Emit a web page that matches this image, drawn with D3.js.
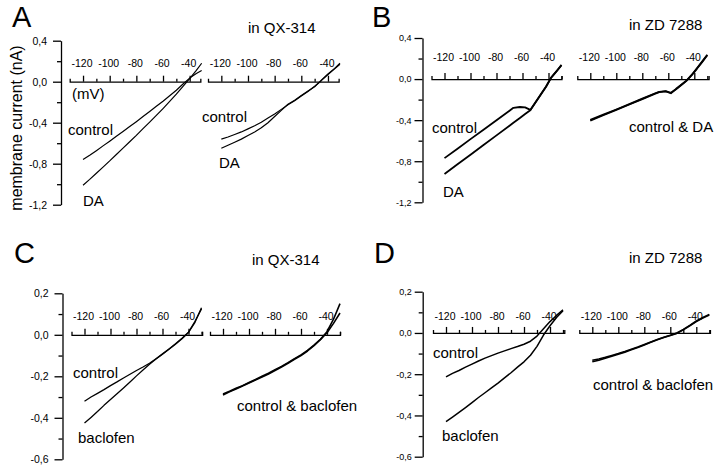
<!DOCTYPE html>
<html>
<head>
<meta charset="utf-8">
<script src="https://cdn.jsdelivr.net/npm/d3@7"></script>
<style>
  html, body { margin: 0; padding: 0; background: #fff; }
  svg { display: block; }
</style>
</head>
<body>
<svg id="fig" width="720" height="466"></svg>
<script>
// ---------------- DATA ----------------
// x tick labels (mV) and y tick values (nA)
const xMajor = [-120, -100, -80, -60, -40];
const xMinor = [-130, -110, -90, -70, -50, -30];
const yMajorAB = [0.4, 0.0, -0.4, -0.8, -1.2];
const yMinorAB = [0.2, -0.2, -0.6, -1.0];
const yMajorCD = [0.2, 0.0, -0.2, -0.4, -0.6];
const yMinorCD = [0.1, -0.1, -0.3, -0.5];

// Panel A (in QX-314), DA
const vA = [-120,-115,-110,-105,-100,-95,-90,-85,-80,-75,-70,-65,-60,-55,-50,-45,-40,-35,-31];
const aLeftControl = [-0.76,-0.718,-0.673,-0.626,-0.58,-0.533,-0.486,-0.438,-0.39,-0.34,-0.29,-0.24,-0.19,-0.137,-0.083,-0.022,0.035,0.08,0.11];
const aLeftDA      = [-1.01,-0.953,-0.893,-0.833,-0.773,-0.71,-0.648,-0.586,-0.524,-0.458,-0.394,-0.329,-0.262,-0.192,-0.122,-0.045,0.03,0.11,0.18];
const aRightControl = [-0.56,-0.54,-0.515,-0.49,-0.46,-0.43,-0.395,-0.355,-0.315,-0.27,-0.225,-0.185,-0.14,-0.095,-0.045,0.01,0.07,0.125,0.17];
const aRightDA      = [-0.65,-0.62,-0.59,-0.56,-0.525,-0.49,-0.45,-0.40,-0.34,-0.28,-0.22,-0.18,-0.135,-0.09,-0.05,0.015,0.075,0.13,0.18];

// Panel B (in ZD 7288), DA
const vB = [-120,-110,-100,-90,-80,-70,-67,-62,-58,-54,-50,-46,-42,-38,-34,-30];
const bLeftControl = [-0.77,-0.678,-0.585,-0.493,-0.40,-0.308,-0.28,-0.272,-0.276,-0.30,-0.225,-0.15,-0.075,0.015,0.075,0.135];
const bLeftDA      = [-0.924,-0.83,-0.736,-0.642,-0.548,-0.454,-0.426,-0.379,-0.341,-0.304,-0.228,-0.152,-0.078,0.012,0.072,0.138];
const bRightControl = [-0.405,-0.352,-0.30,-0.248,-0.195,-0.142,-0.127,-0.12,-0.138,-0.095,-0.055,-0.015,0.04,0.105,0.17,0.237];
const bRightDA      = [-0.398,-0.347,-0.296,-0.244,-0.19,-0.138,-0.124,-0.118,-0.134,-0.10,-0.058,-0.016,0.038,0.10,0.165,0.232];

// Panel C (in QX-314), baclofen
const vC = [-120,-115,-110,-105,-100,-95,-90,-85,-80,-75,-70,-65,-60,-55,-50,-45,-40,-35,-30];
const cLeftControl  = [-0.32,-0.30,-0.282,-0.264,-0.245,-0.227,-0.208,-0.19,-0.172,-0.155,-0.137,-0.115,-0.092,-0.068,-0.043,-0.017,0.013,0.065,0.125];
const cLeftBaclofen = [-0.425,-0.398,-0.37,-0.34,-0.312,-0.284,-0.256,-0.227,-0.198,-0.17,-0.142,-0.117,-0.094,-0.07,-0.045,-0.019,0.011,0.06,0.13];
const cRightControl  = [-0.29,-0.275,-0.261,-0.247,-0.232,-0.218,-0.204,-0.189,-0.172,-0.155,-0.137,-0.118,-0.10,-0.078,-0.052,-0.022,0.015,0.075,0.15];
const cRightBaclofen = [-0.285,-0.272,-0.258,-0.245,-0.23,-0.215,-0.20,-0.185,-0.168,-0.152,-0.134,-0.115,-0.097,-0.075,-0.05,-0.022,0.01,0.055,0.105];

// Panel D (in ZD 7288), baclofen
const vD = [-120,-115,-110,-105,-100,-95,-90,-85,-80,-75,-70,-65,-60,-55,-50,-45,-40,-35,-30];
const dLeftControl  = [-0.213,-0.196,-0.182,-0.166,-0.151,-0.136,-0.122,-0.11,-0.098,-0.087,-0.076,-0.066,-0.055,-0.04,-0.015,0.02,0.055,0.085,0.112];
const dLeftBaclofen = [-0.43,-0.408,-0.385,-0.362,-0.338,-0.313,-0.29,-0.266,-0.243,-0.218,-0.193,-0.166,-0.14,-0.108,-0.065,-0.01,0.035,0.075,0.108];
const dRightControl  = [-0.14,-0.132,-0.123,-0.113,-0.103,-0.093,-0.082,-0.07,-0.058,-0.045,-0.033,-0.022,-0.012,-0.002,0.015,0.035,0.055,0.072,0.087];
const dRightBaclofen = [-0.132,-0.126,-0.118,-0.109,-0.10,-0.09,-0.079,-0.068,-0.056,-0.044,-0.032,-0.021,-0.011,0.0,0.017,0.037,0.058,0.075,0.09];

// ---------------- DRAWING ----------------
const FONT = "'Liberation Sans', Arial, Helvetica, sans-serif";
const svg = d3.select("#fig");
const yFmt = d => d.toFixed(1).replace(".", ",");
const zip = (v, y) => v.map((x, i) => [x, y[i]]);

function drawPanel(cfg) {
  const g = svg.append("g");
  const ys = d3.scaleLinear().domain(cfg.yDomain).range(cfg.yRange);

  // y axis (major + minor)
  const yAx = g.append("g").attr("transform", `translate(${cfg.yAxisX},0)`)
    .call(d3.axisLeft(ys).tickValues(cfg.yMajor).tickSize(8).tickSizeOuter(0)
      .tickPadding(cfg.yPad).tickFormat(yFmt));
  yAx.selectAll("text").attr("font-size", cfg.yFont).attr("font-family", FONT).attr("fill", "#000");
  const yMin = g.append("g").attr("transform", `translate(${cfg.yAxisX},0)`)
    .call(d3.axisLeft(ys).tickValues(cfg.yMinor).tickSize(4).tickFormat(""));
  yMin.select(".domain").remove();
  g.selectAll("path.domain, line").attr("stroke", "#000").attr("stroke-width", 1.3);

  cfg.subs.forEach(s => {
    const xs = d3.scaleLinear().domain([-130, s.end])
      .range([s.x0, s.x0 + (s.end + 130) * s.ppm]);
    const y0 = ys(0);
    const xa = g.append("g").attr("transform", `translate(0,${y0})`)
      .call(d3.axisTop(xs).tickValues(xMajor).tickSize(6).tickSizeOuter(3)
        .tickPadding(cfg.xPad).tickFormat(d => String(d)));
    xa.selectAll("text").attr("font-size", 10.5).attr("font-family", FONT)
      .attr("fill", "#000").attr("dx", "-1.5");
    const xm = g.append("g").attr("transform", `translate(0,${y0})`)
      .call(d3.axisTop(xs).tickValues(xMinor.filter(v => v > -130 && v <= s.end))
        .tickSize(3).tickFormat(""));
    xm.select(".domain").remove();
    xa.selectAll("path, line").attr("stroke", "#000").attr("stroke-width", 1.3);
    xm.selectAll("line").attr("stroke", "#000").attr("stroke-width", 1.3);

    const line = d3.line().x(d => xs(d[0])).y(d => ys(d[1]));
    s.curves.forEach(c => {
      g.append("path").attr("d", line(zip(s.v, c)))
        .attr("fill", "none").attr("stroke", "#000")
        .attr("stroke-width", s.sw).attr("stroke-linejoin", "round");
    });
  });
}

drawPanel({
  yAxisX: 61, yDomain: [0.4, -1.2], yRange: [40.7, 204.7], yMajor: yMajorAB, yMinor: yMinorAB,
  yFont: 10.5, yPad: 6, xPad: 8.5,
  subs: [
    { x0: 69.7, ppm: 1.333, end: -32, v: vA, curves: [aLeftControl, aLeftDA], sw: 1.2 },
    { x0: 208, ppm: 1.333, end: -32, v: vA, curves: [aRightControl, aRightDA], sw: 1.2 }
  ]
});
drawPanel({
  yAxisX: 422.5, yDomain: [0.4, -1.2], yRange: [38, 202.3], yMajor: yMajorAB, yMinor: yMinorAB,
  yFont: 9, yPad: 3, xPad: 12.5,
  subs: [
    { x0: 431.5, ppm: 1.3, end: -30, v: vB, curves: [bLeftControl, bLeftDA], sw: 1.8 },
    { x0: 577.3, ppm: 1.3, end: -29, v: vB, curves: [bRightControl, bRightDA], sw: 1.8 }
  ]
});
drawPanel({
  yAxisX: 62.5, yDomain: [0.2, -0.6], yRange: [293.3, 459.3], yMajor: yMajorCD, yMinor: yMinorCD,
  yFont: 10.5, yPad: 6, xPad: 8.5,
  subs: [
    { x0: 71.5, ppm: 1.3, end: -29.5, v: vC, curves: [cLeftControl, cLeftBaclofen], sw: 1.3 },
    { x0: 210, ppm: 1.3, end: -30, v: vC, curves: [cRightControl, cRightBaclofen], sw: 1.6 }
  ]
});
drawPanel({
  yAxisX: 422.7, yDomain: [0.2, -0.6], yRange: [291.7, 456.7], yMajor: yMajorCD, yMinor: yMinorCD,
  yFont: 9, yPad: 3, xPad: 7,
  subs: [
    { x0: 433, ppm: 1.3, end: -29, v: vD, curves: [dLeftControl, dLeftBaclofen], sw: 1.5 },
    { x0: 579.3, ppm: 1.3, end: -29.5, v: vD, curves: [dRightControl, dRightBaclofen], sw: 1.6 }
  ]
});

// ---------------- TEXT ----------------
function txt(x, y, s, size, extra) {
  const t = svg.append("text").attr("x", x).attr("y", y).text(s)
    .attr("font-family", FONT).attr("font-size", size).attr("fill", "#000");
  if (extra) extra(t);
  return t;
}
// panel letters
txt(12, 27, "A", 29);
txt(372, 27, "B", 29);
txt(14, 263, "C", 29);
txt(374, 263, "D", 29);
// titles
txt(248, 33, "in QX-314", 15);
txt(629, 30, "in ZD 7288", 15);
txt(252, 265, "in QX-314", 15);
txt(629, 263, "in ZD 7288", 15);
// y axis title
txt(0, 0, "membrane current (nA)", 16, t =>
  t.attr("transform", "translate(22,128) rotate(-90)").attr("text-anchor", "middle"));
// annotations
txt(72, 99, "(mV)", 15);
txt(68, 134.5, "control", 15);
txt(83, 205.5, "DA", 15);
txt(202, 121.5, "control", 15);
txt(219, 168, "DA", 15);
txt(432, 133, "control", 15);
txt(443, 197, "DA", 15);
txt(629, 131.5, "control & DA", 15);
txt(73, 378, "control", 15);
txt(78, 443, "baclofen", 15);
txt(237, 411, "control & baclofen", 15);
txt(433, 358, "control", 15);
txt(442, 441, "baclofen", 15);
txt(593, 390, "control & baclofen", 15);
</script>
</body>
</html>
